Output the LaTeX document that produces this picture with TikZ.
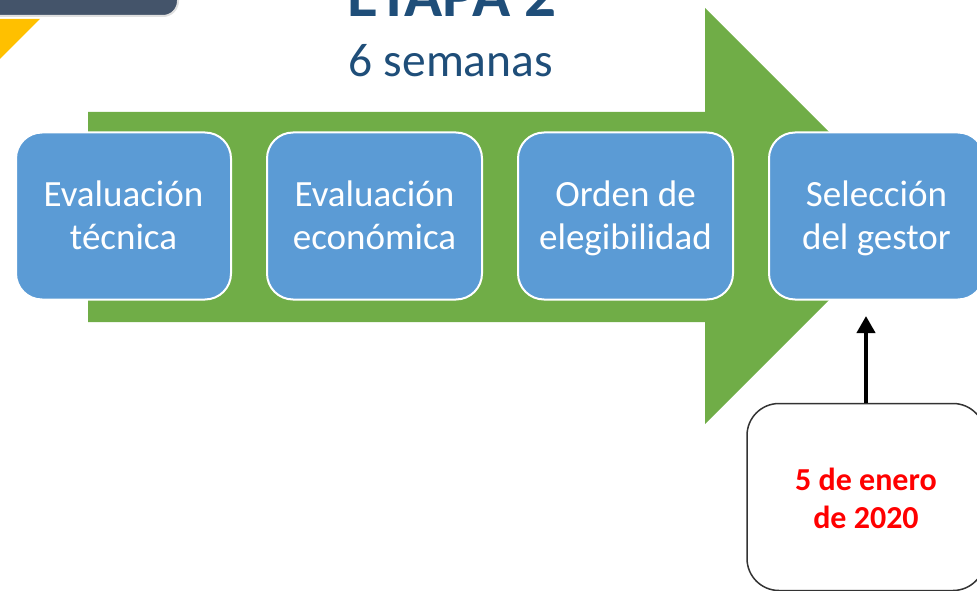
\documentclass[tikz,border=0pt]{standalone}
\usepackage{fontspec}
\setmainfont{Carlito}
\usetikzlibrary{arrows.meta}
\definecolor{flecha}{HTML}{70AD47}
\definecolor{caja}{HTML}{5B9BD5}
\definecolor{titulo}{HTML}{1F4E79}
\definecolor{pizarra}{HTML}{44546A}
\definecolor{ambar}{HTML}{FFC000}
\newcommand{\lin}{\rule[-6pt]{0pt}{36pt}}
\tikzset{
  etapa/.style={rectangle, rounded corners=26pt, fill=caja, draw=white, line width=2pt,
    minimum width=215pt, minimum height=167pt, align=center, text=white,
    font=\fontsize{37}{43}\selectfont},
  fechabox/.style={rectangle, rounded corners=32pt, fill=white, draw=black!80, line width=1.5pt,
    minimum width=238pt, minimum height=187pt, align=center, text=red,
    font=\fontsize{32}{38}\selectfont\bfseries}
}
\begin{document}
\begin{tikzpicture}[x=1pt,y=-1pt]
      \useasboundingbox (0,0) rectangle (977,591);
      \clip (0,0) rectangle (977,591);
      % esquina
      \fill[pizarra, rounded corners=15pt, draw=black!12, line width=2pt] (-30,-30) rectangle (178,16);
      \fill[ambar] (0,19) -- (40,19) -- (0,59) -- cycle;
      % flecha
      \fill[flecha] (88,112) -- (705,112) -- (705,8) -- (913,216) -- (705,424) -- (705,322) -- (88,322) -- cycle;
      \node[anchor=base, text=titulo, font=\fontsize{63}{64}\selectfont\bfseries] (titulo) at (452,17) {ETAPA 2};
      \node[anchor=base, text=titulo, font=\fontsize{47.5}{52}\selectfont] (duracion) at (451,77) {6 semanas};
      \draw
        (123.5,216) node[etapa] (tecnica) {\lin Evaluación\\\lin técnica}
        (374.5,216) node[etapa] (economica) {\lin Evaluación\\\lin económica}
        (625.5,216) node[etapa] (orden) {\lin Orden de\\\lin elegibilidad}
        (876.5,216) node[etapa] (seleccion) {\lin Selección\\\lin del gestor};
      \node[fechabox] (fecha) at (866,497) {\lin 5 de enero\\\lin de 2020};
      \coordinate (meta) at (866,316);
      \draw[-{Triangle[width=18pt,length=17pt]}, line width=4pt] (fecha.north) -- (meta);
    \end{tikzpicture}
\end{document}
